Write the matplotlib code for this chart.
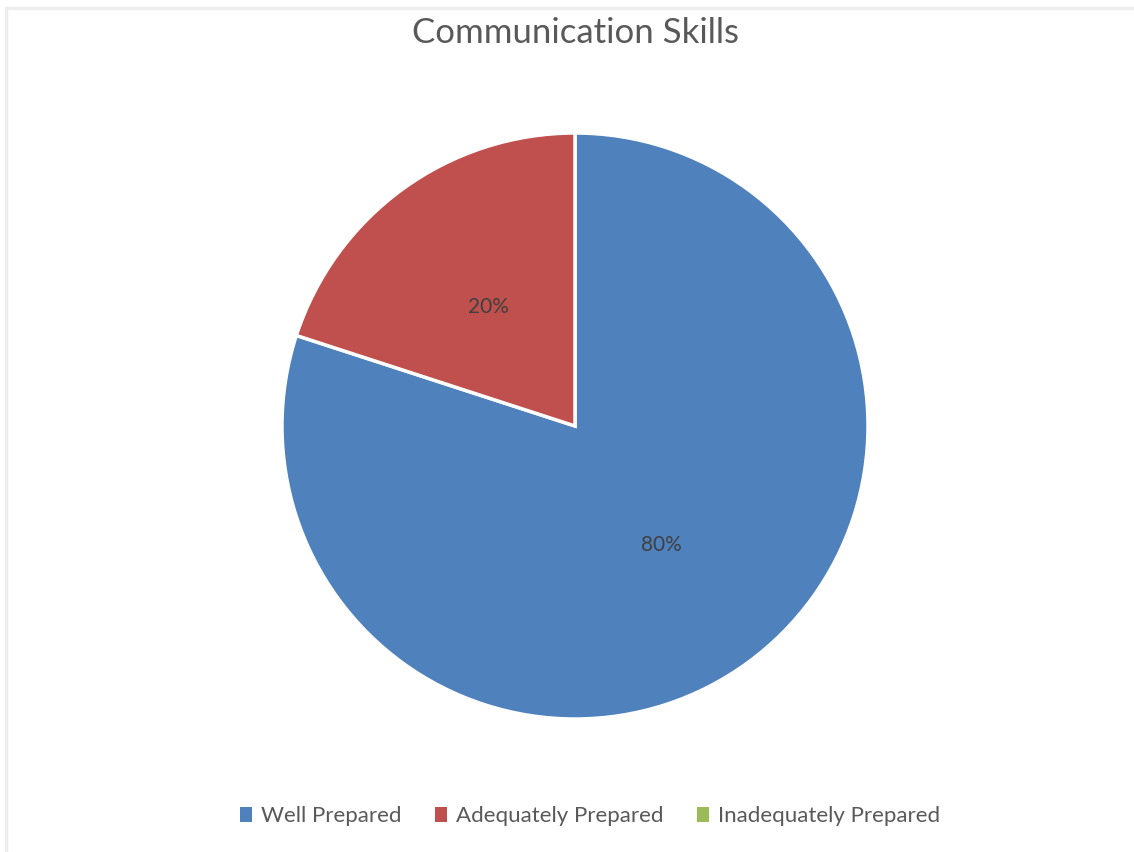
import matplotlib
matplotlib.use('Agg')
import matplotlib.pyplot as plt
from matplotlib.patches import Patch, Rectangle

plt.rcParams['font.family'] = ['Lato', 'DejaVu Sans']

# Survey results for communication skills
categories = ['Well Prepared', 'Adequately Prepared', 'Inadequately Prepared']
shares = [80, 20, 0]
colors = ['#4F81BD', '#C0504D', '#9BBB59']

W, H = 1134, 852
fig = plt.figure(figsize=(W / 100, H / 100), dpi=100)
fig.patch.set_facecolor('white')

# light chart-area frame (only top/left edges fall inside the image)
fig.patches.append(Rectangle((6 / W, -0.05), 1.2, 1 - 8 / H + 0.05,
                             transform=fig.transFigure, fill=False,
                             edgecolor='#eeeeee', linewidth=2.5))

cx, cy, r = 575, 426, 293
ax = fig.add_axes([(cx - r) / W, (H - cy - r) / H, 2 * r / W, 2 * r / H])

# drop zero-share slices from the pie but keep them in the legend
vals = [v for v in shares if v > 0]
cols = [c for v, c in zip(shares, colors) if v > 0]
wedges, texts, autotexts = ax.pie(vals, colors=cols, startangle=90, counterclock=False,
                                  autopct='%1.0f%%', pctdistance=0.5, radius=1,
                                  wedgeprops=dict(edgecolor='white', linewidth=2.5))
for t in autotexts:
    t.set_color('#404040')
    t.set_fontsize(15)
ax.set_xlim(-1, 1)
ax.set_ylim(-1, 1)
ax.set_aspect('equal')
ax.axis('off')

fig.text(cx / W, 1 - 33 / H, 'Communication Skills', ha='center', va='center',
         fontsize=25, color='#595959')

handles = [Patch(facecolor=c, edgecolor='none') for c in colors]
fig.legend(handles, categories, loc='center', bbox_to_anchor=(590 / W, 1 - 816 / H),
           ncol=3, frameon=False, fontsize=16, labelcolor='#595959',
           handlelength=0.55, handleheight=0.65, handletextpad=0.4, columnspacing=1.5)

fig.savefig('out.png', dpi=100)
